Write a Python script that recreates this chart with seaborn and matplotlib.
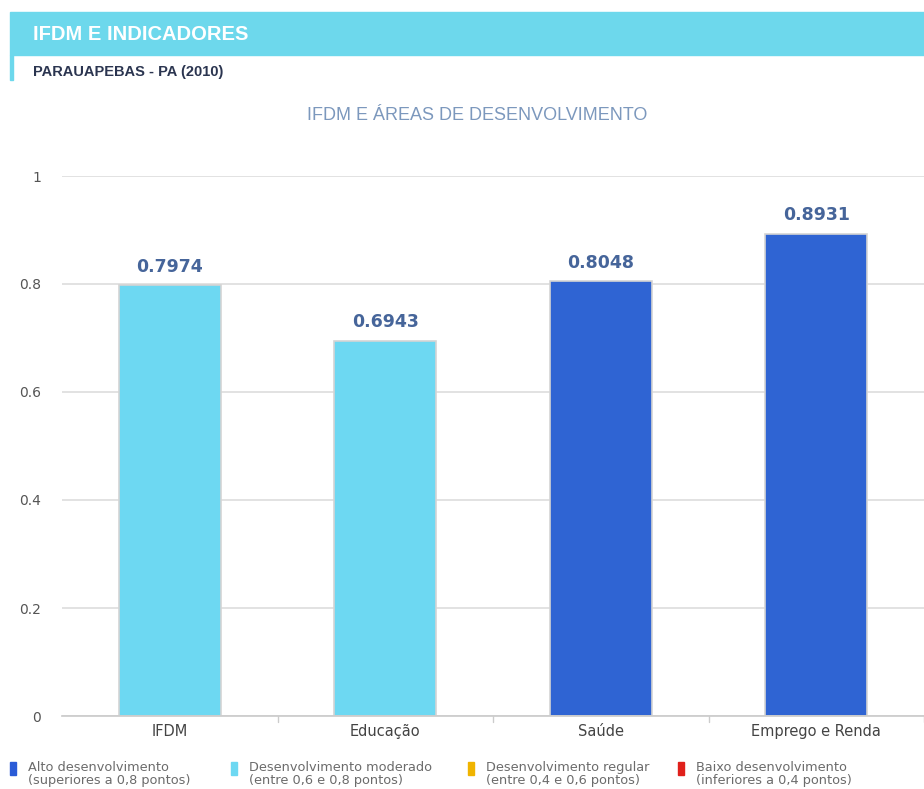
import matplotlib.pyplot as plt
import seaborn as sns
from matplotlib.patches import Rectangle

# data
categories = ["IFDM", "Educação", "Saúde", "Emprego e Renda"]
values = [0.7974, 0.6943, 0.8048, 0.8931]
value_labels = ["0.7974", "0.6943", "0.8048", "0.8931"]
bar_colors = ["#6dd8f2", "#6dd8f2", "#2f64d3", "#2f64d3"]
y_ticks = [0, 0.2, 0.4, 0.6, 0.8, 1]
y_tick_labels = ["0", "0.2", "0.4", "0.6", "0.8", "1"]

legend_labels = [
    "Alto desenvolvimento\n(superiores a 0,8 pontos)",
    "Desenvolvimento moderado\n(entre 0,6 e 0,8 pontos)",
    "Desenvolvimento regular\n(entre 0,4 e 0,6 pontos)",
    "Baixo desenvolvimento\n(inferiores a 0,4 pontos)",
]
legend_colors = ["#2a5bd7", "#6dd8f2", "#f0b400", "#e0201b"]

sns.set_theme(style="white")
plt.rcParams["font.family"] = ["Liberation Sans", "DejaVu Sans"]

W, H = 924, 789
fig = plt.figure(figsize=(W / 100, H / 100), dpi=100)

# header band
fig.patches.append(Rectangle((10 / W, 1 - 55 / H), 1 - 10 / W, 43 / H,
                             transform=fig.transFigure, color="#6dd8ec", zorder=0))
fig.patches.append(Rectangle((10 / W, 1 - 80 / H), 3 / W, 25 / H,
                             transform=fig.transFigure, color="#6dd8ec", zorder=0))
fig.text(33 / W, 1 - 34 / H, "IFDM E INDICADORES", color="white", fontsize=14.5,
         fontweight="bold", va="center", ha="left")
fig.text(33 / W, 1 - 72 / H, "PARAUAPEBAS - PA (2010)", color="#2b3550", fontsize=10.5,
         fontweight="bold", va="center", ha="left")
fig.text(477 / W, 1 - 115 / H, "IFDM E ÁREAS DE DESENVOLVIMENTO", color="#7c98bd",
         fontsize=13, va="center", ha="center")

ax = fig.add_axes([62 / W, 1 - 716 / H, 1 - 62 / W, (716 - 176) / H])
sns.barplot(x=categories, y=values, hue=categories, palette=bar_colors, legend=False,
            width=0.475, saturation=1, edgecolor="#d4d4d4", linewidth=1.2, ax=ax)

ax.set_ylim(0, 1)
ax.set_xlim(-0.5, 3.5)
ax.set_yticks(y_ticks)
ax.set_yticklabels(y_tick_labels, color="#555555", fontsize=10, family="DejaVu Sans")
ax.set_xticks(range(len(categories)))
ax.set_xticklabels(categories, color="#444444", fontsize=10.5, family="DejaVu Sans")
ax.yaxis.grid(True, color="#dddddd", linewidth=1.2)
ax.set_axisbelow(True)
ax.tick_params(axis="y", length=0, pad=15)
ax.tick_params(axis="x", length=0, pad=6)
for s in ["top", "right", "left"]:
    ax.spines[s].set_visible(False)
ax.spines["bottom"].set_color("#cccccc")
ax.set_xlabel("")
ax.set_ylabel("")

# category separators on the baseline
for xb in [0.5, 1.5, 2.5, 3.5]:
    ax.plot([xb, xb], [0, -0.012], color="#cccccc", linewidth=1, clip_on=False)

for i, (v, lab) in enumerate(zip(values, value_labels)):
    ax.text(i, v + 0.018, lab, ha="center", va="bottom", fontsize=12.5,
            fontweight="bold", color="#46659a", family="DejaVu Sans", clip_on=False)

# legend at the bottom
legend_x = [10, 231, 468, 678]
for x0, lab, col in zip(legend_x, legend_labels, legend_colors):
    fig.patches.append(Rectangle((x0 / W, 1 - 775 / H), 6 / W, 13 / H,
                                 transform=fig.transFigure, color=col))
    fig.text((x0 + 18) / W, 1 - 774 / H, lab, color="#6b6b6b", fontsize=9.3,
             va="center", ha="left", linespacing=0.92, family="DejaVu Sans")

fig.savefig("out.png", dpi=100, facecolor="white")
